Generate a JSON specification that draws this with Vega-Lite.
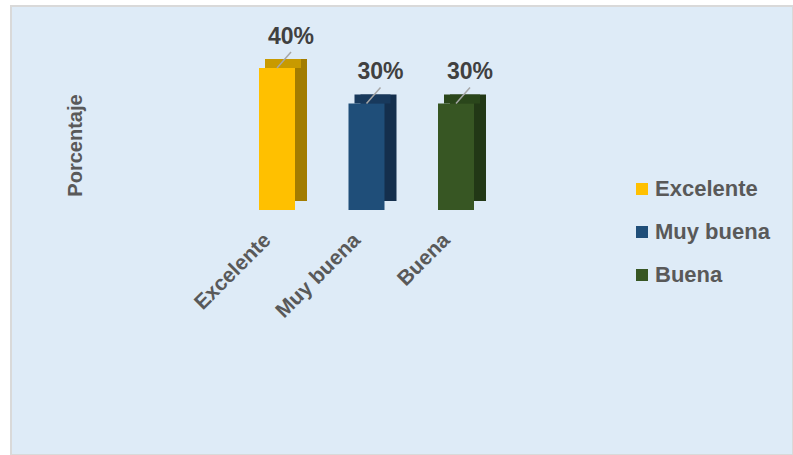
{
  "$schema": "https://vega.github.io/schema/vega-lite/v6.json",
  "width": 782,
  "height": 449,
  "autosize": {"type": "none"},
  "padding": {"left": 11, "top": 6, "right": 0, "bottom": 0},
  "background": "#ffffff",
  "config": {
    "view": {"fill": "#deebf7", "stroke": "#d9d9d9", "strokeWidth": 2},
    "font": "Liberation Sans"
  },
  "data": {
    "values": [
      {"categoria": "Excelente", "valor": 0.4},
      {"categoria": "Muy buena", "valor": 0.3},
      {"categoria": "Buena", "valor": 0.3}
    ]
  },
  "encoding": {
    "x": {
      "field": "categoria",
      "type": "nominal",
      "sort": ["Excelente", "Muy buena", "Buena"],
      "scale": {"paddingInner": 0, "paddingOuter": 0, "range": [221.25, 489.75]},
      "axis": {
        "title": null,
        "orient": "bottom",
        "offset": -245,
        "domain": false,
        "ticks": false,
        "labelAngle": -45,
        "labelFontSize": 21,
        "labelFontWeight": "bold",
        "labelColor": "#595959",
        "labelPadding": 19,
        "labelOffset": -17
      }
    },
    "y": {
      "field": "valor",
      "type": "quantitative",
      "scale": {"domain": [-0.6901, 0.5746], "nice": false, "zero": false},
      "axis": {
        "title": "Porcentaje",
        "titleFontSize": 20,
        "titleFontWeight": "bold",
        "titleColor": "#595959",
        "titleY": 139,
        "domain": false,
        "ticks": false,
        "labels": false,
        "grid": false,
        "offset": -78
      }
    }
  },
  "layer": [
    {
      "mark": {"type": "bar", "width": 36, "xOffset": 12, "yOffset": -9, "y2Offset": -9},
      "encoding": {
        "y2": {"datum": 0},
        "color": {
          "field": "categoria",
          "type": "nominal",
          "sort": ["Excelente", "Muy buena", "Buena"],
          "scale": {"domain": ["Excelente", "Muy buena", "Buena"], "range": ["#a27c00", "#142f4d", "#223816"]},
          "legend": null
        }
      }
    },
    {
      "mark": {"type": "bar", "width": 36, "xOffset": 6, "y2Offset": -9},
      "encoding": {
        "y2": {"field": "valor"},
        "color": {
          "field": "categoria",
          "type": "nominal",
          "sort": ["Excelente", "Muy buena", "Buena"],
          "scale": {"domain": ["Excelente", "Muy buena", "Buena"], "range": ["#c89a00", "#18395c", "#2a461b"]},
          "legend": null
        }
      }
    },
    {
      "mark": {"type": "bar", "width": 36},
      "encoding": {
        "y2": {"datum": 0},
        "color": {
          "field": "categoria",
          "type": "nominal",
          "sort": ["Excelente", "Muy buena", "Buena"],
          "scale": {"domain": ["Excelente", "Muy buena", "Buena"], "range": ["#ffc000", "#1f4e79", "#375623"]},
          "legend": {
            "title": null,
            "orient": "none",
            "legendX": 620,
            "legendY": 172,
            "symbolType": "square",
            "symbolSize": 144,
            "symbolStrokeWidth": 0,
            "labelFontSize": 22,
            "labelFontWeight": "bold",
            "labelColor": "#595959",
            "labelOffset": 2,
            "rowPadding": 21
          }
        }
      }
    },
    {
      "mark": {"type": "rule", "color": "#a6a6a6", "strokeWidth": 1.5, "x2Offset": 14, "y2Offset": -16},
      "encoding": {
        "x2": {"field": "categoria"},
        "y2": {"field": "valor"}
      }
    },
    {
      "mark": {"type": "text", "dx": 14, "dy": -31, "fontSize": 23, "fontWeight": "bold", "color": "#404040", "baseline": "middle"},
      "encoding": {
        "text": {"field": "valor", "type": "quantitative", "format": ".0%"}
      }
    }
  ],
  "resolve": {"scale": {"color": "independent"}}
}
